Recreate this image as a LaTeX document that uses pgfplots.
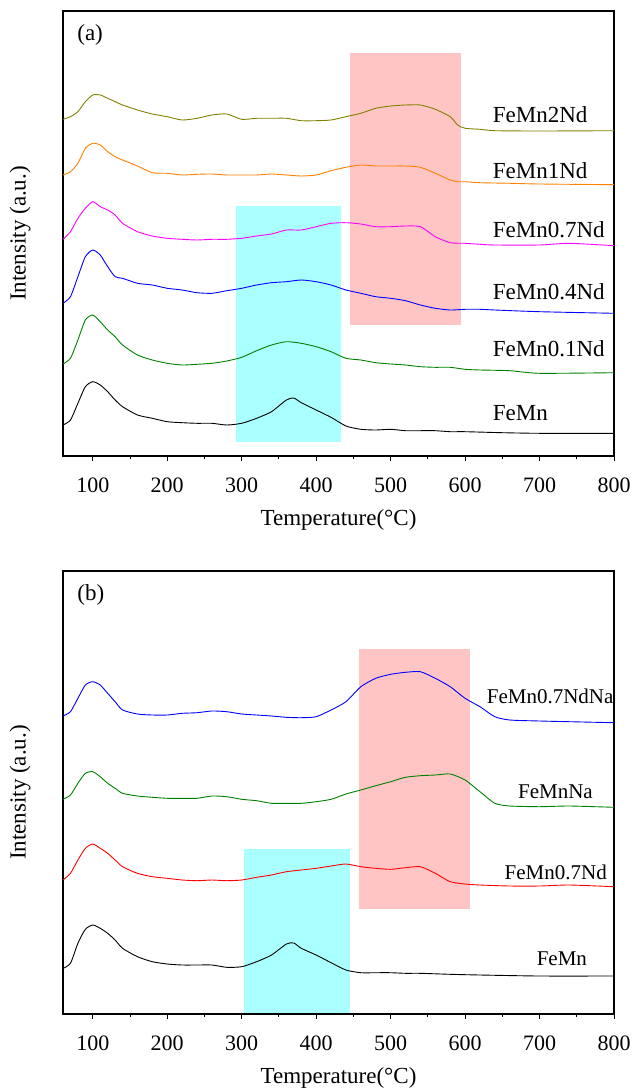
\documentclass[border=0pt]{standalone}
\usepackage{fontspec}
\setmainfont{Liberation Serif}
\usepackage{pgfplots}
\pgfplotsset{compat=1.18}
\definecolor{cOlive}{RGB}{128,128,0}
\definecolor{cOrange}{RGB}{255,128,0}
\definecolor{cMag}{RGB}{255,0,255}
\definecolor{cBlue}{RGB}{0,0,255}
\definecolor{cGreen}{RGB}{0,128,0}
\definecolor{cRed}{RGB}{255,0,0}
\definecolor{cPink}{RGB}{255,196,196}
\definecolor{cCyan}{RGB}{170,255,255}
\pgfplotsset{
  tprstyle/.style={
    scale only axis, width=551pt,
    xmin=60, xmax=800, ymin=0,
    axis line style={line width=1.5pt},
    xtick={100,200,...,800}, minor x tick num=1,
    xtick pos=bottom, tick align=outside,
    major tick length=5pt, minor tick length=3pt,
    every tick/.style={black, line width=1pt},
    ytick=\empty,
    /pgf/number format/assume math mode=true,
    ticklabel style={font=\fontsize{22}{25}\selectfont},
    xticklabel style={yshift=-13pt},
    label style={font=\fontsize{23}{26}\selectfont},
    xlabel={Temperature(°C)},
    ylabel={Intensity (a.u.)},
    xlabel style={at={(axis description cs:0.5,0)}, anchor=center, yshift=-64pt},
    ylabel style={at={(axis description cs:-0.078,0.5)}, anchor=center},
    clip=false,
    every axis plot/.append style={line width=0.9pt, smooth, tension=0.4},
  }
}
\begin{document}
\begin{tikzpicture}
% ---------------- panel (a)
\begin{axis}[tprstyle, at={(63pt,-456pt)}, anchor=south west, height=445pt, ymax=445]
\addplot[draw=none, fill=cPink, sharp plot] coordinates {(445,131) (594,131) (594,403) (445,403)} -- cycle;
\addplot[draw=none, fill=cCyan, sharp plot] coordinates {(292.5,14) (434,14) (434,250) (292.5,250)} -- cycle;
% FeMn2Nd
\addplot[cOlive] coordinates {
(60,336.7)(70,339.3)(80,344.3)(90,354.3)(100,361)(110,361)(120,357.7)(130,354.3)(140,351)
(160,346)(180,342)(200,339.3)(220,336)(240,337.7)(260,341)(280,342)(300,336.7)(320,337.7)
(340,337.7)(360,337.7)(380,335.3)(400,335.3)(420,336)(440,339.3)(460,342.7)(480,347.7)
(500,350)(520,351)(540,351)(560,346.7)(580,339.3)(590,331)(600,327.7)(620,326.7)(640,325.3)
(700,325)(800,325.3)};
% FeMn1Nd
\addplot[cOrange] coordinates {
(60,281)(70,284.3)(80,292.7)(90,307.7)(100,312.7)(110,311)(120,304.3)(130,299.3)(140,296)
(160,290)(180,283.3)(200,282.7)(220,281)(240,281.7)(260,282)(280,281)(300,281)(320,281)
(340,282)(360,281)(380,280)(400,281)(420,285.3)(440,288.7)(460,291)(480,290)(500,290)
(520,290)(540,288.7)(560,282.7)(580,276)(590,274.3)(600,274.3)(620,273.3)(660,272.7)
(700,272)(800,271.3)};
% FeMn0.7Nd
\addplot[cMag] coordinates {
(60,216.7)(70,224.3)(80,237.7)(90,247.7)(100,254.3)(110,249.3)(120,246)(130,241)(140,232.7)
(160,224.3)(180,220)(200,217.7)(220,216.7)(240,216)(260,216.7)(280,216.7)(300,217.7)(320,220)
(340,222)(360,226)(380,226)(400,229.3)(420,232.7)(440,233.3)(460,232)(480,229.3)(500,229.3)
(520,230)(540,229.3)(560,219.3)(580,213.3)(600,212.7)(620,211.7)(640,211)(700,211)
(740,212.7)(800,210.3)};
% FeMn0.4Nd
\addplot[cBlue] coordinates {
(60,152.7)(70,159.3)(80,179.3)(90,199.3)(100,206)(110,201)(120,189.3)(130,179.3)(140,177.7)
(160,172.7)(180,171)(200,167.7)(220,166)(240,163.3)(260,162.7)(280,165.3)(300,167.7)(320,171)
(340,173.3)(360,174.3)(380,176)(400,174.3)(420,171)(440,166)(460,162.7)(480,159.3)(500,157.7)
(520,155.3)(540,151)(560,147.7)(580,146)(600,146.7)(620,146.7)(640,146)(700,144.3)(800,142.7)};
% FeMn0.1Nd
\addplot[cGreen] coordinates {
(60,92)(70,97.7)(80,116)(90,136)(100,141)(110,134.3)(120,126)(130,119.3)(140,111)
(160,101)(180,96)(200,92.7)(220,91)(240,91.7)(260,92.7)(280,95)(300,98.7)(320,105.3)
(340,111)(360,114.3)(380,112.7)(400,109.3)(420,104.3)(440,97.7)(460,96)(480,93.3)(500,92)
(520,91)(540,89.3)(560,88.7)(580,88.7)(600,86.7)(620,86)(660,85.3)(700,82.7)(800,83.3)};
% FeMn
\addplot[black] coordinates {
(60,31)(70,36)(80,52.7)(90,69.3)(100,74.3)(110,71)(120,64.3)(130,56)(140,49.3)
(160,41)(180,37.7)(200,34.3)(220,33.3)(240,32.7)(260,32.7)(280,31)(300,32.7)(320,37.7)
(340,44.3)(360,56)(370,58)(380,53.3)(400,46)(420,38.7)(440,30)(460,26.7)(480,26)(500,26.7)
(520,25.3)(540,25.3)(560,25.3)(580,24.3)(600,24.3)(650,23.3)(700,22.7)(800,22.7)};
\begin{scope}[every node/.style={anchor=west, font=\fontsize{23}{26}\selectfont, inner sep=0pt}]
\node at (axis cs:637,341) {FeMn2Nd};
\node at (axis cs:637,285) {FeMn1Nd};
\node at (axis cs:637,226) {FeMn0.7Nd};
\node at (axis cs:637,164) {FeMn0.4Nd};
\node at (axis cs:637,107) {FeMn0.1Nd};
\node at (axis cs:637,43) {FeMn};
\node at (axis cs:79,421) {(a)};
\end{scope}
\end{axis}
% ---------------- panel (b)
\begin{axis}[tprstyle, at={(63pt,-1014pt)}, anchor=south west, height=443pt, ymax=443]
\addplot[draw=none, fill=cPink, sharp plot] coordinates {(457,105) (606,105) (606,365) (457,365)} -- cycle;
\addplot[draw=none, fill=cCyan, sharp plot] coordinates {(303,1.5) (445.5,1.5) (445.5,165) (303,165)} -- cycle;
% FeMn0.7NdNa
\addplot[cBlue] coordinates {
(60,298)(70,302.3)(80,315.7)(90,329)(100,332.3)(110,329)(120,320.7)(130,312.3)(140,304)
(160,300)(180,299)(200,299)(220,300.7)(240,301.3)(260,303)(280,302.3)(300,300)(320,299)
(340,298)(360,296.7)(380,296.3)(400,297.3)(420,304)(440,312.3)(460,327.3)(480,335.7)
(500,339.7)(520,341.7)(540,342.3)(560,335.7)(580,327.3)(600,315.7)(620,307.3)(640,297.3)
(660,294)(700,293)(740,292.3)(800,291.3)};
% FeMnNa
\addplot[cGreen] coordinates {
(60,214.7)(70,219)(80,230.7)(90,240.7)(100,242.3)(110,237.3)(120,230.7)(130,225.7)(140,220.7)
(160,218)(180,216.7)(200,215.7)(220,215.7)(240,215.7)(260,218)(280,217.3)(300,214.7)(320,213.3)
(340,210.7)(360,210.7)(380,210.7)(400,212.3)(420,214.7)(440,220)(460,224)(480,228.3)(500,232.3)
(520,236.7)(540,238.3)(560,239)(580,240)(600,234)(620,222.3)(640,210.7)(660,208)(700,207.3)
(740,208)(800,206.7)};
% FeMn0.7Nd
\addplot[cRed] coordinates {
(60,134)(70,140.7)(80,154)(90,165.7)(100,170)(110,165.7)(120,160.7)(130,154)(140,147.3)
(160,140.7)(180,137.3)(200,135.7)(220,134)(240,133.3)(260,134)(280,133.3)(300,134)(320,136.7)
(340,139)(360,142.3)(380,144)(400,145.7)(420,148)(440,150)(460,147.3)(480,145.7)(500,144.7)
(520,146.3)(540,147.3)(560,140.7)(580,132.3)(600,130)(620,129)(660,128)(700,128)(740,129)(800,127.3)};
% FeMn
\addplot[black] coordinates {
(60,45.7)(70,50.7)(80,70.7)(90,84.7)(100,89)(110,85.7)(120,80.7)(130,74)(140,65.7)
(160,57.3)(180,52.3)(200,50)(220,49)(240,49)(260,49)(280,46.7)(300,47.3)(320,52.3)
(340,59)(360,70)(370,71)(380,65.7)(400,59)(420,51.3)(440,44)(460,41.3)(480,41.3)(500,41.3)
(520,40.7)(540,40.7)(580,39.7)(620,39)(700,38)(800,38)};
\begin{scope}[every node/.style={anchor=west, font=\fontsize{21}{24}\selectfont, inner sep=0pt}]
\node at (axis cs:629,318) {FeMn0.7NdNa};
\node at (axis cs:671,222) {FeMnNa};
\node at (axis cs:653,142) {FeMn0.7Nd};
\node at (axis cs:696,55) {FeMn};
\end{scope}
\node[anchor=west, font=\fontsize{23}{26}\selectfont, inner sep=0pt] at (axis cs:79,419) {(b)};
\end{axis}
\pgfresetboundingbox
\path[use as bounding box] (0pt,0pt) rectangle (634pt,-1091pt);
\end{tikzpicture}
\end{document}
